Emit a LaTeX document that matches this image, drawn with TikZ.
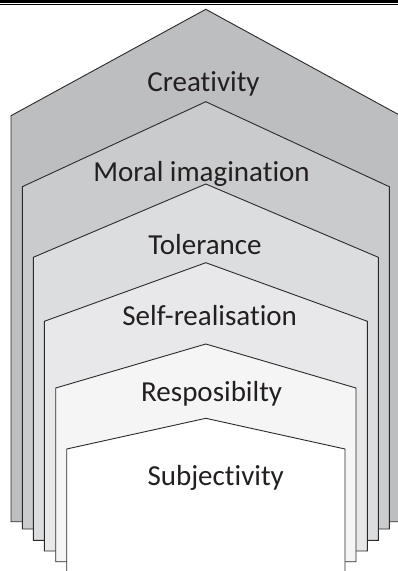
\documentclass[tikz,border=0pt]{standalone}
\usepackage{fontspec}
\setmainfont{Carlito}[Ligatures={NoCommon,NoRare,NoContextual}]
\definecolor{c0}{HTML}{BDBEC0}
\definecolor{c1}{HTML}{CACBCD}
\definecolor{c2}{HTML}{DCDDDF}
\definecolor{c3}{HTML}{E8E8EA}
\definecolor{c4}{HTML}{F5F5F5}
\definecolor{txt}{HTML}{231F20}
\definecolor{edge}{HTML}{2A2A2A}
\tikzset{
  layer/.style={draw=edge,line width=0.9pt,line join=miter},
  lbl/.style={font=\fontsize{29}{31}\selectfont,text=txt,anchor=base,inner sep=0pt}
}
\begin{document}
\begin{tikzpicture}[x=1pt,y=-1pt]
\useasboundingbox (0,0) rectangle (398,571);
\begin{scope}
\clip (0,0) rectangle (398,571);
\fill[white] (0,0) rectangle (398,571);
\draw[layer,fill=c0] (11,521.7) -- (11,115.7) -- (205.8,9.3) -- (400.6,115.7) -- (400.6,521.7) -- cycle;
\draw[layer,fill=c1] (22.3,529) -- (22.3,186.7) -- (205.8,101.7) -- (389.3,186.7) -- (389.3,529) -- cycle;
\draw[layer,fill=c2] (33.3,540.3) -- (33.3,257.3) -- (205.8,184) -- (378.3,257.3) -- (378.3,540.3) -- cycle;
\draw[layer,fill=c3] (44.3,551) -- (44.3,321.3) -- (205.8,262.7) -- (367.4,321.3) -- (367.4,551) -- cycle;
\draw[layer,fill=c4] (55.7,561.7) -- (55.7,388) -- (205.8,344) -- (356,388) -- (356,561.7) -- cycle;
\fill[white] (66.7,580) -- (66.7,449) -- (205.8,418.3) -- (345,449) -- (345,580) -- cycle;
\draw[layer] (66.7,580) -- (66.7,449) -- (205.8,418.3) -- (345,449) -- (345,580);
\end{scope}
\fill[black] (0,0) rectangle (398,3);
\draw[black,line width=1.3pt] (0,4.7) -- (398,4.7);
\node[lbl] (creativity) at (203.5,91.7) {Creativity};
\node[lbl] (moral) at (201.5,181) {Moral imagination};
\node[lbl] (tolerance) at (205,254) {Tolerance};
\node[lbl] (selfreal) at (209.7,325) {Self-realisation};
\node[lbl] (respons) at (211.7,401.7) {Resposibilty};
\node[lbl] (subject) at (215.7,485) {Subjectivity};
\end{tikzpicture}
\end{document}
